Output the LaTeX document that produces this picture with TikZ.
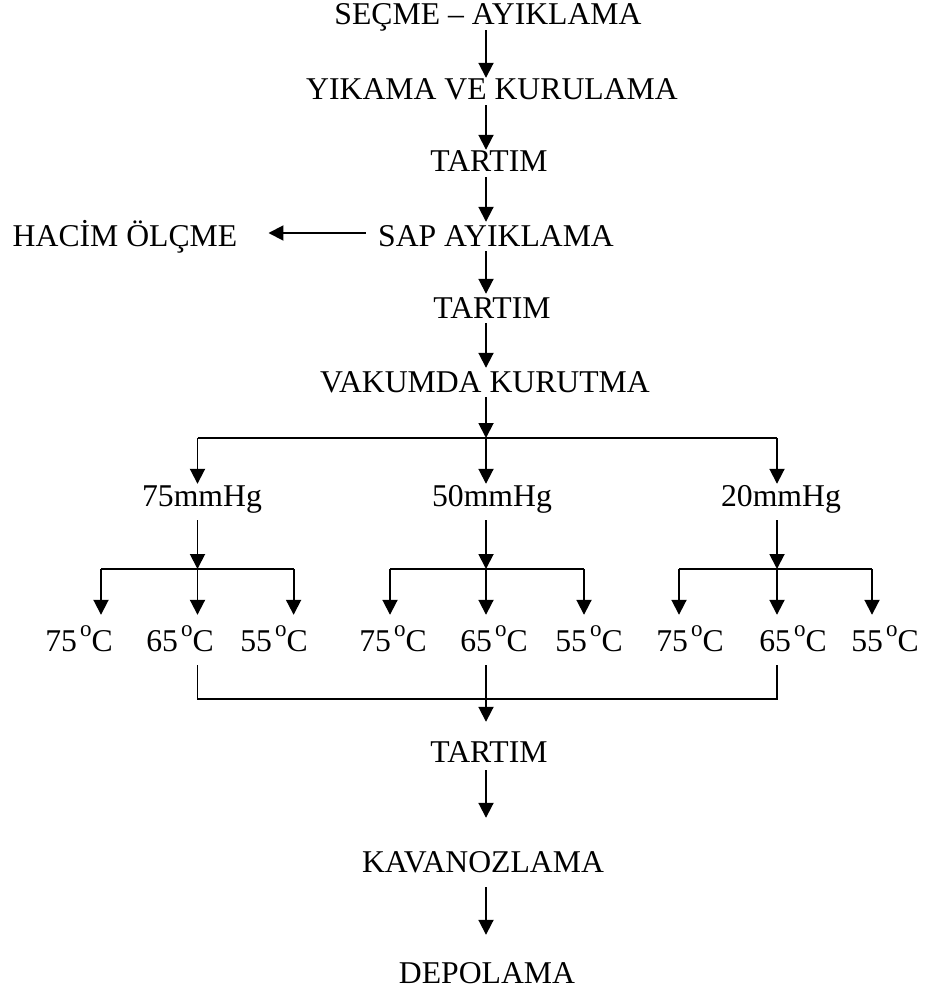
\documentclass[tikz,border=0pt]{standalone}
\usepackage{fontspec}
\setmainfont{Liberation Serif}
\usetikzlibrary{arrows.meta}
% degree sign written as a raised small "o"
\newcommand{\degC}{\kern3pt\raisebox{15pt}{\fontsize{23}{23}\selectfont o}C}
\begin{document}
\begin{tikzpicture}[x=1pt,y=-1pt,
  lbl/.style={anchor=base, inner sep=0pt, text height=22pt, text depth=5pt,
              font=\fontsize{31.7}{38}\selectfont},
  flow/.style={line width=1.9pt, -{Triangle[length=15pt,width=15pt]}},
  link/.style={line width=1.9pt}]
\useasboundingbox (0,0) rectangle (925,992);

% main spine
\coordinate (sp) at (486,0);

% process steps
\node[lbl] (s1)  at (488,25)  {SEÇME – AYIKLAMA};
\node[lbl] (s2)  at (492,100) {YIKAMA VE KURULAMA};
\node[lbl] (s3)  at (489,172) {TARTIM};
\node[lbl] (hac) at (125,246) {HACİM ÖLÇME};
\node[lbl] (sap) at (496,246) {SAP AYIKLAMA};
\node[lbl] (s5)  at (492,318) {TARTIM};
\node[lbl] (s6)  at (485,392) {VAKUMDA KURUTMA};

% pressures
\node[lbl] (p75) at (202,506) {75mmHg};
\node[lbl] (p50) at (492,506) {50mmHg};
\node[lbl] (p20) at (781,506) {20mmHg};

% temperatures
\node[lbl] (t1) at (79,651)  {75\degC};
\node[lbl] (t2) at (180,651) {65\degC};
\node[lbl] (t3) at (274,651) {55\degC};
\node[lbl] (t4) at (393,651) {75\degC};
\node[lbl] (t5) at (494,651) {65\degC};
\node[lbl] (t6) at (589,651) {55\degC};
\node[lbl] (t7) at (690,651) {75\degC};
\node[lbl] (t8) at (793,651) {65\degC};
\node[lbl] (t9) at (885,651) {55\degC};

% final steps
\node[lbl] (f1)  at (489,762) {TARTIM};
\node[lbl] (kav) at (483,872) {KAVANOZLAMA};
\node[lbl] (dep) at (487,983) {DEPOLAMA};

% branch junctions
\coordinate (b75) at (197.5,438);
\coordinate (bar) at (486,438);
\coordinate (b20) at (777,438);
\coordinate (k1) at (101,569);
\coordinate (k2) at (197.5,569);
\coordinate (k3) at (293.6,569);
\coordinate (k4) at (390,569);
\coordinate (k5) at (486,569);
\coordinate (k6) at (584,569);
\coordinate (k7) at (679,569);
\coordinate (k8) at (777,569);
\coordinate (k9) at (872,569);
\coordinate (m3) at (777,699);

% upper chain
\draw[flow] (s1.south -| sp) -- (s2.north -| sp);
\draw[flow] (s2.south -| sp) -- (s3.north -| sp);
\draw[flow, shorten >=2pt] (s3.south -| sp) -- (sap.north -| sp);
\draw[flow, shorten >=2pt] (sap.south -| sp) -- (s5.north -| sp);
\draw[flow, shorten >=2pt] (s5.south -| sp) -- (s6.north -| sp);
\draw[flow, shorten <=12pt, shorten >=31pt] ([yshift=4.5pt]sap.west) -- ([yshift=4.5pt]hac.east);

% split by pressure
\draw[flow] (s6.south -| sp) -- (bar);
\draw[link] (b75) -- (b20);
\draw[flow] (b75) -- (p75.north -| b75);
\draw[flow] (bar) -- (p50.north -| bar);
\draw[flow] (b20) -- (p20.north -| b20);

% split by temperature
\draw[flow, shorten <=9pt] (p75.south -| k2) -- (k2);
\draw[flow, shorten <=9pt] (p50.south -| k5) -- (k5);
\draw[flow, shorten <=9pt] (p20.south -| k8) -- (k8);
\draw[link] (k1) -- (k3);
\draw[link] (k4) -- (k6);
\draw[link] (k7) -- (k9);
\foreach \k/\t in {k1/t1,k2/t2,k3/t3,k4/t4,k5/t5,k6/t6,k7/t7,k8/t8,k9/t9}
  \draw[flow, shorten >=14pt] (\k) -- (\t.north -| \k);

% merge
\draw[link] ([yshift=-9pt]t2.south -| k2) |- (m3) -- ([yshift=-9pt]t8.south -| k8);
\draw[flow, shorten >=18pt] ([yshift=-9pt]t5.south -| k5) -- (f1.north -| k5);

% lower chain
\draw[flow, shorten <=3pt, shorten >=32pt] (f1.south -| sp) -- (kav.north -| sp);
\draw[flow, shorten <=10pt, shorten >=26pt] (kav.south -| sp) -- (dep.north -| sp);
\end{tikzpicture}
\end{document}
